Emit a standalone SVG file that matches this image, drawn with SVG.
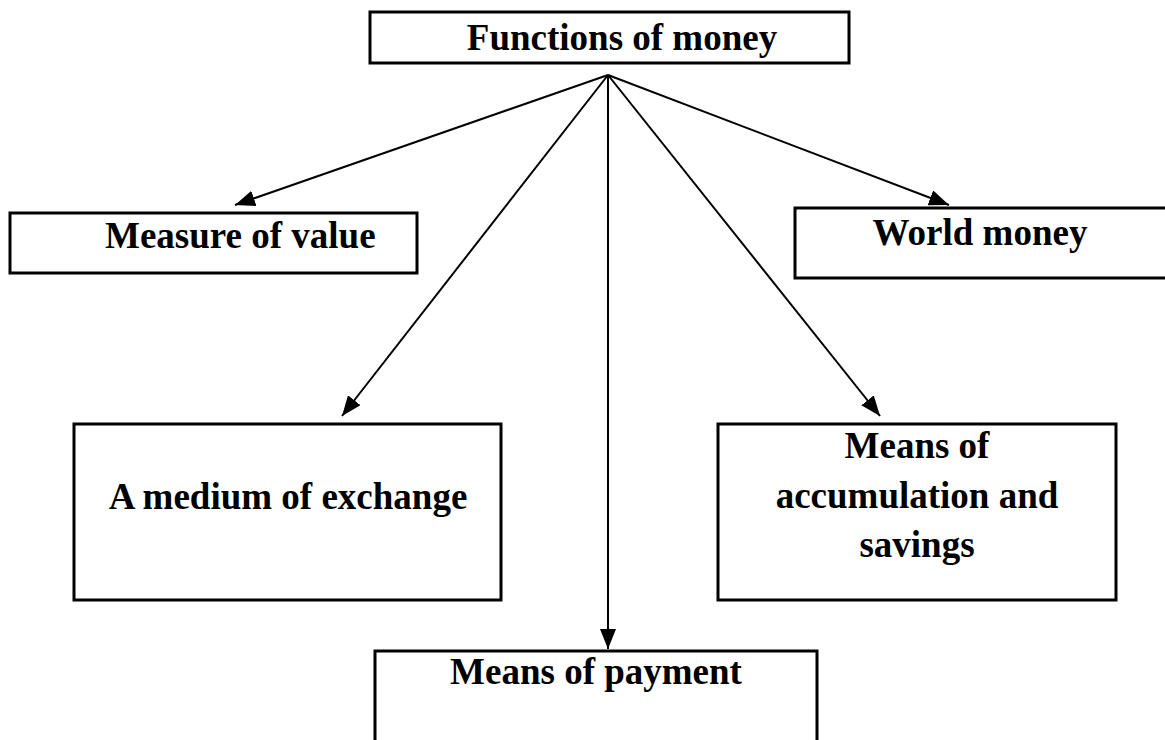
<svg xmlns="http://www.w3.org/2000/svg" width="1165" height="740" viewBox="0 0 1165 740">
  <style>
    .box { fill: #ffffff; stroke: #000000; stroke-width: 3; }
    .link { fill: none; stroke: #000000; stroke-width: 2; }
    text { font-family: "Liberation Serif", serif; font-weight: 700; font-size: 37px; fill: #000000; }
  </style>
  <defs>
    <marker id="arrow" markerUnits="userSpaceOnUse" markerWidth="20" markerHeight="16" viewBox="0 0 20 16" refX="20" refY="8" orient="auto">
      <path d="M0,0 L20,8 L0,16 Z" fill="#000000"/>
    </marker>
  </defs>
  <rect width="1165" height="740" fill="#ffffff"/>

  <!-- connectors from the root node -->
  <g id="connectors">
    <line class="link" x1="608" y1="75" x2="235" y2="205" marker-end="url(#arrow)"/>
    <line class="link" x1="608" y1="75" x2="342" y2="416" marker-end="url(#arrow)"/>
    <line class="link" x1="608" y1="75" x2="608" y2="649" marker-end="url(#arrow)"/>
    <line class="link" x1="608" y1="75" x2="880" y2="416" marker-end="url(#arrow)"/>
    <line class="link" x1="608" y1="75" x2="949" y2="205" marker-end="url(#arrow)"/>
  </g>

  <g id="node-functions">
    <rect class="box" x="370" y="12" width="479" height="51"/>
    <text x="622" y="50" text-anchor="middle">Functions of money</text>
  </g>

  <g id="node-measure">
    <rect class="box" x="10" y="213" width="407" height="60"/>
    <text x="105" y="248">Measure of value</text>
  </g>

  <g id="node-world">
    <rect class="box" x="795" y="208" width="372" height="70"/>
    <text x="980" y="245" text-anchor="middle">World money</text>
  </g>

  <g id="node-exchange">
    <rect class="box" x="74" y="424" width="427" height="176"/>
    <text x="288" y="509" text-anchor="middle">A medium of exchange</text>
  </g>

  <g id="node-accumulation">
    <rect class="box" x="718" y="424" width="398" height="176"/>
    <text x="917" y="458" text-anchor="middle">Means of</text>
    <text x="917" y="508" text-anchor="middle">accumulation and</text>
    <text x="917" y="557" text-anchor="middle">savings</text>
  </g>

  <g id="node-payment">
    <rect class="box" x="375" y="651" width="442" height="100"/>
    <text x="596" y="684" text-anchor="middle">Means of payment</text>
  </g>
</svg>
